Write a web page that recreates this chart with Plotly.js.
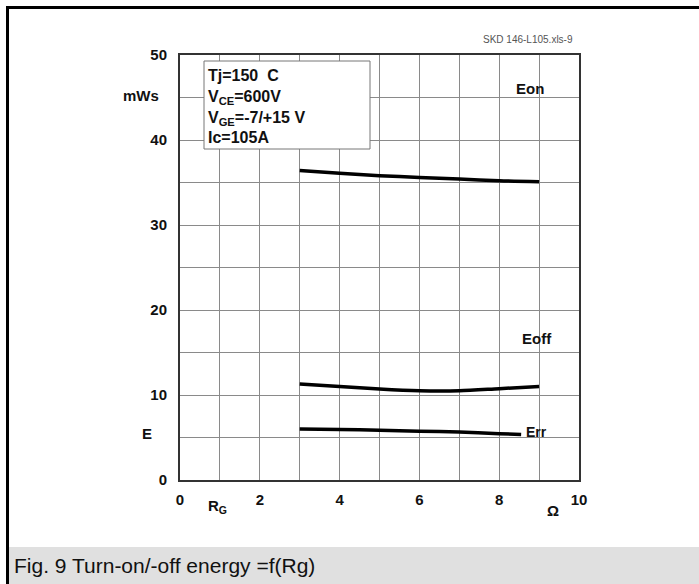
<!DOCTYPE html>
<html>
<head>
<meta charset="utf-8">
<script src="https://cdn.plot.ly/plotly-3.0.1.min.js"></script>
<style>
html,body{margin:0;padding:0;background:#fff;}
#chart{width:699px;height:584px;}
</style>
</head>
<body>
<div id="chart"></div>
<script>
// ---- data ----
const rg = [3, 4, 5, 6, 7, 8, 9];
const eon = [36.4, 36.1, 35.8, 35.6, 35.4, 35.2, 35.1];
const eoff = [11.3, 11.0, 10.7, 10.5, 10.5, 10.75, 11.0];
const rgErr = [3, 4, 5, 6, 7, 8, 8.55];
const err = [6.0, 5.95, 5.85, 5.75, 5.65, 5.45, 5.35];

const xTickVals = [0, 1, 2, 3, 4, 5, 6, 7, 8, 9, 10];
const xTickText = ['0', '', '2', '', '4', '', '6', '', '8', '', '10'];
const yTickVals = [0, 5, 10, 15, 20, 25, 30, 35, 40, 45, 50];
const yTickText = ['0', '', '10', '', '20', '', '30', '', '40', '', '50'];

const condText = 'Tj=150  C<br>V<sub>CE</sub>=600V<br>V<sub>GE</sub>=-7/+15 V<br>Ic=105A';
const captionText = 'Fig. 9 Turn-on/-off energy =f(Rg)';
const fileTag = 'SKD 146-L105.xls-9';

// ---- layout geometry (pixels) ----
const W = 699, H = 584;
const L = 180, R = 579, T = 55, B = 480;
const px = x => (x - L) / (R - L);
const py = y => (B - y) / (B - T);

const FONT = 'Liberation Sans, Arial, sans-serif';
const bold = (size, color) => ({family: FONT, size: size, color: color || '#111', weight: 'bold'});

const lineStyle = {color: '#000', width: 3.5, shape: 'spline', smoothing: 0.8};

const traces = [
  {x: rg, y: eon, mode: 'lines', line: lineStyle, name: 'Eon', hoverinfo: 'skip'},
  {x: rg, y: eoff, mode: 'lines', line: lineStyle, name: 'Eoff', hoverinfo: 'skip'},
  {x: rgErr, y: err, mode: 'lines', line: lineStyle, name: 'Err', hoverinfo: 'skip'}
];

function ann(text, x, y, font, opts) {
  return Object.assign({
    text: text, xref: 'paper', yref: 'paper', x: px(x), y: py(y),
    xanchor: 'center', yanchor: 'middle', showarrow: false, font: font
  }, opts || {});
}

const layout = {
  width: W, height: H,
  margin: {l: L, r: W - R, t: T, b: H - B, pad: 0},
  paper_bgcolor: '#fff',
  plot_bgcolor: '#fff',
  showlegend: false,
  font: {family: FONT},
  xaxis: {
    range: [0, 10], tickvals: xTickVals, ticktext: xTickText,
    showgrid: true, gridcolor: '#8a8a8a', gridwidth: 1,
    zeroline: false, showline: true, mirror: true, linecolor: '#333', linewidth: 2,
    ticks: '', ticklabelstandoff: 5, tickfont: bold(15), fixedrange: true
  },
  yaxis: {
    range: [0, 50], tickvals: yTickVals, ticktext: yTickText,
    showgrid: true, gridcolor: '#8a8a8a', gridwidth: 1,
    zeroline: false, showline: true, mirror: true, linecolor: '#333', linewidth: 2,
    ticks: '', ticklabelstandoff: 8, tickfont: bold(15), fixedrange: true
  },
  shapes: [
    // caption band
    {type: 'rect', xref: 'paper', yref: 'paper', x0: px(8), x1: px(699), y0: py(547), y1: py(584),
     fillcolor: '#e0e0e0', line: {width: 0}, layer: 'below'},
    // outer frame: left and top thick black lines
    {type: 'line', xref: 'paper', yref: 'paper', x0: px(7.5), x1: px(7.5), y0: py(6), y1: py(584),
     line: {color: '#000', width: 3}},
    {type: 'line', xref: 'paper', yref: 'paper', x0: px(6), x1: px(699), y0: py(7.5), y1: py(7.5),
     line: {color: '#000', width: 3}},
    // condition box
    {type: 'rect', xref: 'paper', yref: 'paper', x0: px(204), x1: px(370), y0: py(61), y1: py(149),
     fillcolor: '#fff', line: {color: '#777', width: 1}, layer: 'above'}
  ],
  annotations: [
    ann(condText, 206, 107, bold(16, '#111'), {xanchor: 'left', align: 'left'}),
    ann('mWs', 141, 95, bold(15)),
    ann('E', 147, 433, bold(15)),
    ann('R<sub>G</sub>', 217, 506, bold(15)),
    ann('\u03A9', 553, 510, bold(15)),
    ann('Eon', 530, 89, bold(15)),
    ann('Eoff', 537, 338, bold(15)),
    ann('Err', 536, 432, bold(14)),
    ann(fileTag, 528, 39, {family: FONT, size: 10, color: '#555'}),
    ann(captionText, 12, 565, {family: FONT, size: 21, color: '#111'}, {xanchor: 'left'})
  ]
};

Plotly.newPlot('chart', traces, layout, {displayModeBar: false, staticPlot: true});
</script>
</body>
</html>
